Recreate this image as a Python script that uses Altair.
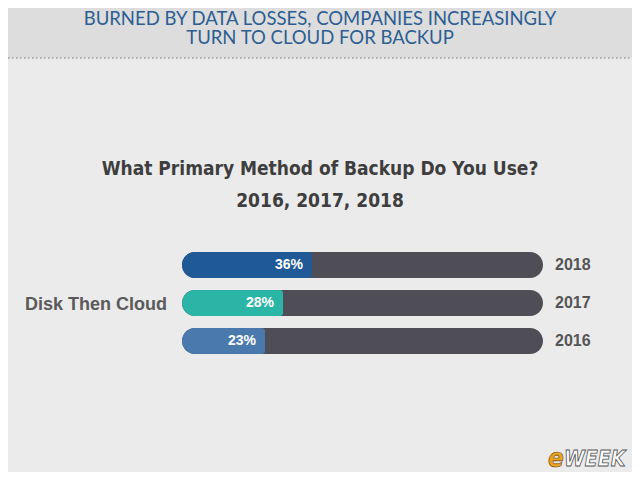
import altair as alt
import pandas as pd

years = ["2018", "2017", "2016"]
values = [36, 28, 23]
labels = ["36%", "28%", "23%"]
colors = ["#1f5a96", "#2bb5a6", "#4a7aad"]
full = [100, 100, 100]

header_lines = ["BURNED BY DATA LOSSES, COMPANIES INCREASINGLY", "TURN TO CLOUD FOR BACKUP"]
title_lines = ["What Primary Method of Backup Do You Use?", "2016, 2017, 2018"]
group_label = "Disk Then Cloud"

df = pd.DataFrame({"year": years, "value": values, "label": labels,
                   "color": colors, "full": full})

W, H = 624, 464

xs = alt.Scale(domain=[0, 100], range=[174, 535])
ys = alt.Scale(domain=years, range=[238, 352], paddingInner=12 / 38, paddingOuter=6 / 38)

X = alt.X("value:Q", scale=xs, axis=None)
Y = alt.Y("year:N", scale=ys, axis=None, sort=years)

base = alt.Chart(df)
one = pd.DataFrame({"a": [0]})

header_bg = alt.Chart(one).mark_rect(color="#dddddd").encode(
    x=alt.value(0), x2=alt.value(W), y=alt.value(0), y2=alt.value(50))

dots = alt.Chart(one).mark_rule(
    color="#9a9a9a", strokeDash=[1.5, 2.5], strokeWidth=1.5).encode(
    x=alt.value(0), x2=alt.value(W), y=alt.value(50))


def block(lines, ytop, **kw):
    return alt.Chart(pd.DataFrame({"t": ["\n".join(lines)]})).mark_text(
        align="center", baseline="top", lineBreak="\n", **kw).encode(
        x=alt.value(312), y=alt.value(ytop), text="t:N")


header = block(header_lines, 2, font="Lato", fontSize=18.5, lineHeight=19, color="#2d5e93")
title = block(title_lines, 152, font="DejaVu Sans Condensed", fontWeight="bold",
              fontSize=19, lineHeight=32, color="#3e3e3e")

track = base.mark_bar(color="#4f4e57", cornerRadius=13).encode(
    x=alt.X("full:Q", scale=xs, axis=None), x2=alt.value(174), y=Y)

fill = base.mark_bar(cornerRadiusTopLeft=13, cornerRadiusBottomLeft=13,
                     cornerRadiusTopRight=3, cornerRadiusBottomRight=3).encode(
    x=X, x2=alt.value(174), y=Y, color=alt.Color("color:N", scale=None))

pct = base.mark_text(color="white", fontWeight="bold", fontSize=14, font="Liberation Sans",
                     align="right", baseline="middle", dx=-9).encode(x=X, y=Y, text="label:N")

yr = base.mark_text(color="#555555", fontWeight="bold", fontSize=16, font="Liberation Sans",
                    align="left", baseline="middle", dx=12).encode(
    x=alt.X("full:Q", scale=xs, axis=None), y=Y, text="year:N")

grp = alt.Chart(pd.DataFrame({"t": [group_label]})).mark_text(
    color="#5a5a5a", fontWeight="bold", fontSize=18, font="Liberation Sans",
    align="right", baseline="middle").encode(x=alt.value(159), y=alt.value(297), text="t:N")

logo_e = alt.Chart(pd.DataFrame({"t": ["e"]})).mark_text(
    color="#e8a323", stroke="#6b4a10", strokeWidth=0.6, fontWeight="bold", fontStyle="italic",
    fontSize=26, font="DejaVu Sans Condensed", align="left", baseline="middle").encode(
    x=alt.value(540), y=alt.value(451), text="t:N")
logo_w = alt.Chart(pd.DataFrame({"t": ["WEEK"]})).mark_text(
    color="#ffffff", stroke="#555555", strokeWidth=0.8, fontWeight="bold", fontStyle="italic",
    fontSize=21, font="DejaVu Sans Condensed", align="left", baseline="middle").encode(
    x=alt.value(556), y=alt.value(452), text="t:N")

chart = alt.layer(header_bg, dots, header, title, track, fill, pct, yr,
                  grp, logo_e, logo_w).properties(
    width=W, height=H, background="#ebebeb", padding=0,
    autosize=alt.AutoSizeParams(type="none")
).configure_view(stroke=None)

chart.save("out.html", embed_options={"renderer": "svg", "actions": False})
